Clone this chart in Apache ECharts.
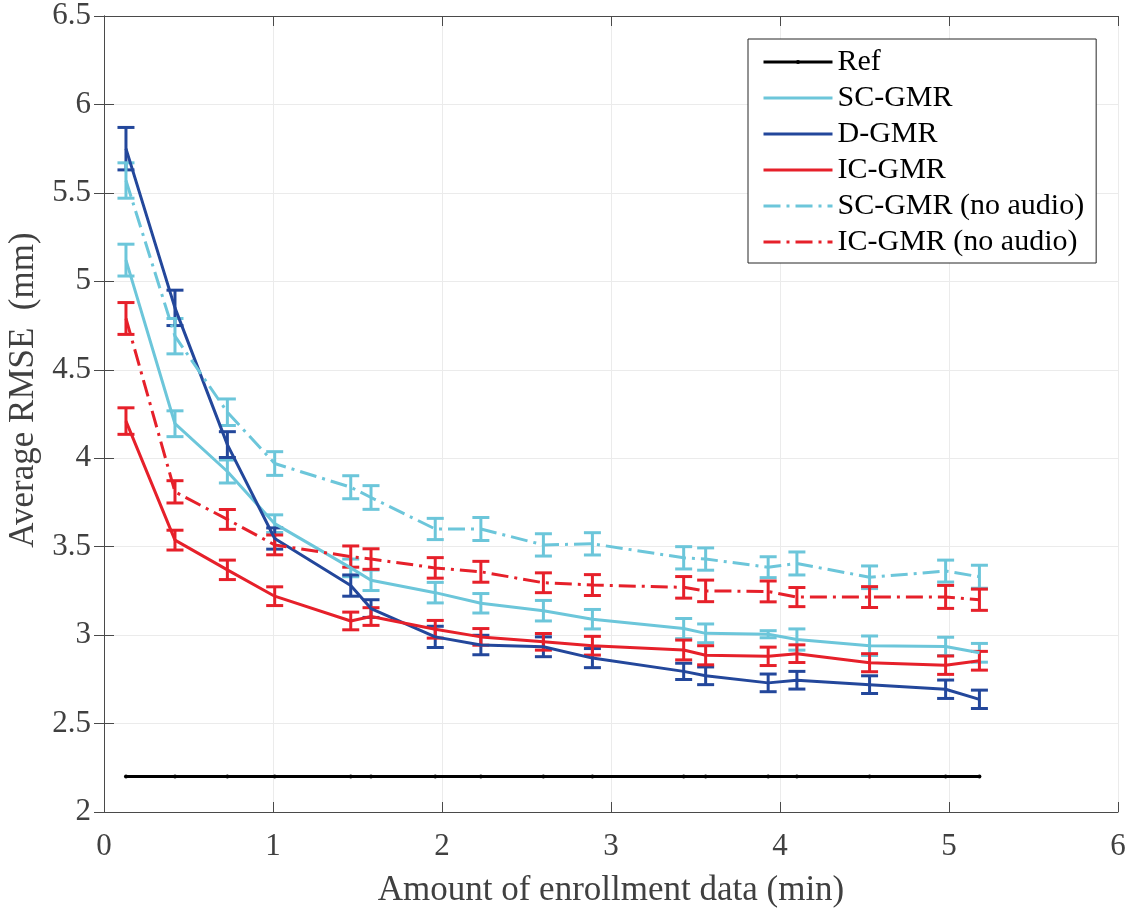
<!DOCTYPE html>
<html>
<head>
<meta charset="utf-8">
<script src="https://cdn.jsdelivr.net/npm/echarts@6/dist/echarts.min.js"></script>
<style>
html,body{margin:0;padding:0;background:#fff;}
#chart{width:1134px;height:913px;}
</style>
</head>
<body>
<div id="chart"></div>
<script>
// ---- data ----
const xData = [0.13, 0.42, 0.73, 1.01, 1.46, 1.58, 1.96, 2.23, 2.60, 2.89, 3.43, 3.56, 3.93, 4.10, 4.53, 4.98, 5.18];

const refVals = [2.2, 2.2, 2.2, 2.2, 2.2, 2.2, 2.2, 2.2, 2.2, 2.2, 2.2, 2.2, 2.2, 2.2, 2.2, 2.2, 2.2];

const scMean = [5.12, 4.195, 3.925, 3.63, 3.38, 3.31, 3.24, 3.18, 3.138, 3.09, 3.037, 3.01, 3.005, 2.975, 2.94, 2.936, 2.90];
const scErr  = [0.09, 0.073, 0.065, 0.05, 0.05, 0.058, 0.058, 0.055, 0.058, 0.055, 0.057, 0.053, 0.02, 0.06, 0.055, 0.052, 0.053];

const dMean = [5.75, 4.85, 4.077, 3.546, 3.28, 3.15, 2.99, 2.944, 2.934, 2.87, 2.795, 2.77, 2.73, 2.745, 2.72, 2.694, 2.637];
const dErr  = [0.12, 0.10, 0.073, 0.06, 0.06, 0.05, 0.06, 0.055, 0.056, 0.054, 0.046, 0.05, 0.05, 0.05, 0.05, 0.052, 0.052];

const icMean = [4.21, 3.537, 3.369, 3.22, 3.08, 3.105, 3.033, 2.99, 2.962, 2.94, 2.916, 2.886, 2.88, 2.895, 2.844, 2.83, 2.855];
const icErr  = [0.075, 0.056, 0.055, 0.053, 0.05, 0.05, 0.05, 0.047, 0.047, 0.053, 0.056, 0.054, 0.052, 0.05, 0.051, 0.052, 0.053];

const scnaMean = [5.57, 4.69, 4.26, 3.97, 3.836, 3.778, 3.60, 3.60, 3.51, 3.516, 3.437, 3.43, 3.384, 3.405, 3.327, 3.362, 3.33];
const scnaErr  = [0.10, 0.10, 0.075, 0.067, 0.065, 0.067, 0.06, 0.065, 0.063, 0.063, 0.063, 0.063, 0.059, 0.065, 0.064, 0.062, 0.065];

const icnaMean = [4.79, 3.81, 3.654, 3.51, 3.444, 3.43, 3.38, 3.358, 3.296, 3.283, 3.27, 3.25, 3.247, 3.215, 3.215, 3.216, 3.20];
const icnaErr  = [0.09, 0.063, 0.056, 0.056, 0.06, 0.058, 0.058, 0.059, 0.056, 0.059, 0.061, 0.061, 0.059, 0.054, 0.059, 0.065, 0.06];

const seriesNames = ['Ref', 'SC-GMR', 'D-GMR', 'IC-GMR', 'SC-GMR (no audio)', 'IC-GMR (no audio)'];
const xTickMin = 0, xTickMax = 6, xTickStep = 1;
const yTickMin = 2, yTickMax = 6.5, yTickStep = 0.5;

// ---- styling ----
const FONT = '"Liberation Serif", "Times New Roman", serif';
const C_SC = '#6cc6da';
const C_D = '#23479b';
const C_IC = '#e6202a';
const C_REF = '#000000';
const TEXT = '#404040';
const AXIS = '#4a4a4a';
const DASHDOT = [17, 6, 3, 6];

function pairs(ys) { return xData.map((x, i) => [x, ys[i]]); }
function triples(ys, es) { return xData.map((x, i) => [x, ys[i], es[i]]); }

function errRender(color) {
  return function (params, api) {
    const x = api.value(0), m = api.value(1), e = api.value(2);
    const t = api.coord([x, m + e]);
    const b = api.coord([x, m - e]);
    const hw = 8.5;
    const st = { stroke: color, lineWidth: 3, lineCap: 'butt' };
    return {
      type: 'group',
      children: [
        { type: 'line', shape: { x1: t[0], y1: t[1], x2: b[0], y2: b[1] }, style: st },
        { type: 'line', shape: { x1: t[0] - hw, y1: t[1], x2: t[0] + hw, y2: t[1] }, style: st },
        { type: 'line', shape: { x1: b[0] - hw, y1: b[1], x2: b[0] + hw, y2: b[1] }, style: st }
      ]
    };
  };
}

function lineSeries(name, ys, color, dashed) {
  return {
    name: name, type: 'line', data: pairs(ys),
    symbol: 'none', silent: true, animation: false,
    lineStyle: { color: color, width: 3, type: dashed ? DASHDOT : 'solid', cap: 'butt' },
    itemStyle: { color: color }
  };
}
function errSeries(name, ys, es, color) {
  return {
    name: name + ' err', type: 'custom', data: triples(ys, es),
    renderItem: errRender(color), silent: true, animation: false,
    encode: { x: 0, y: [1] }
  };
}

const chart = echarts.init(document.getElementById('chart'), null, { renderer: 'canvas' });

const axisCommon = {
  axisLine: { show: true, lineStyle: { color: AXIS, width: 1 } },
  axisTick: { show: true, inside: true, length: 10, lineStyle: { color: AXIS } }
};

const legendData = seriesNames.map((n, i) => i === 0 ? { name: n } : { name: n, itemStyle: { opacity: 0 } });

chart.setOption({
  animation: false,
  backgroundColor: '#ffffff',
  textStyle: { fontFamily: FONT },
  grid: { left: 104, right: 16, top: 16, bottom: 95, containLabel: false },
  xAxis: [
    Object.assign({
      type: 'value', min: xTickMin, max: xTickMax, interval: xTickStep, position: 'bottom',
      axisLabel: { color: TEXT, fontSize: 31, fontFamily: FONT, margin: 19 },
      splitLine: { show: true, lineStyle: { color: '#ebebeb', width: 1 } },
      name: 'Amount of enrollment data (min)', nameLocation: 'middle', nameGap: 61,
      nameTextStyle: { color: TEXT, fontSize: 35, fontFamily: FONT }
    }, axisCommon),
    Object.assign({
      type: 'value', min: xTickMin, max: xTickMax, interval: xTickStep, position: 'top',
      axisLabel: { show: false }, splitLine: { show: false }
    }, axisCommon)
  ],
  yAxis: [
    Object.assign({
      type: 'value', min: yTickMin, max: yTickMax, interval: yTickStep, position: 'left',
      axisLabel: { color: TEXT, fontSize: 31, fontFamily: FONT, margin: 13 },
      splitLine: { show: true, lineStyle: { color: '#ebebeb', width: 1 } }
    }, axisCommon),
    Object.assign({
      type: 'value', min: yTickMin, max: yTickMax, interval: yTickStep, position: 'right',
      axisLabel: { show: false }, splitLine: { show: false }
    }, axisCommon)
  ],
  graphic: [{
    type: 'text', x: 24, y: 390, rotation: Math.PI / 2,
    style: { text: 'Average RMSE  (mm)', fill: TEXT, font: '35px ' + FONT, align: 'center', verticalAlign: 'middle' }
  }],
  legend: {
    data: legendData,
    orient: 'vertical', left: 748, top: 39,
    backgroundColor: '#ffffff', borderColor: '#262626', borderWidth: 1,
    padding: [8, 12, 6, 14], itemWidth: 69, itemHeight: 5, itemGap: 6,
    lineStyle: { width: 3 },
    textStyle: { color: '#000', fontSize: 30, fontFamily: FONT },
    selectedMode: false
  },
  series: [
    {
      name: 'Ref', type: 'line', data: pairs(refVals),
      symbol: 'circle', symbolSize: 4, showSymbol: true, silent: true,
      lineStyle: { color: C_REF, width: 3 }, itemStyle: { color: C_REF }
    },
    lineSeries('SC-GMR', scMean, C_SC, false),
    errSeries('SC-GMR', scMean, scErr, C_SC),
    lineSeries('D-GMR', dMean, C_D, false),
    errSeries('D-GMR', dMean, dErr, C_D),
    lineSeries('IC-GMR', icMean, C_IC, false),
    errSeries('IC-GMR', icMean, icErr, C_IC),
    lineSeries('SC-GMR (no audio)', scnaMean, C_SC, true),
    errSeries('SC-GMR (no audio)', scnaMean, scnaErr, C_SC),
    lineSeries('IC-GMR (no audio)', icnaMean, C_IC, true),
    errSeries('IC-GMR (no audio)', icnaMean, icnaErr, C_IC)
  ]
});
</script>
</body>
</html>
